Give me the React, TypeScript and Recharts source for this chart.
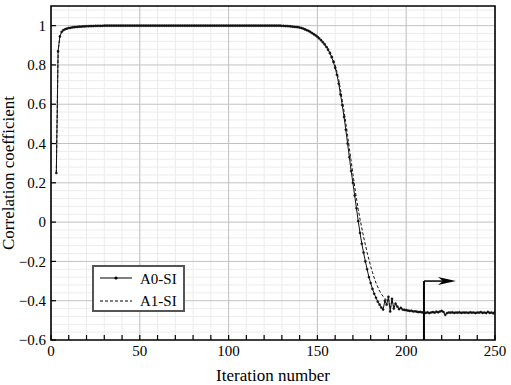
import React from 'react';
import {
  LineChart,
  Line,
  XAxis,
  YAxis,
  CartesianGrid,
  ReferenceLine,
  ReferenceArea,
  Legend,
  Label,
} from 'recharts';

// iterations start at 3 (first recorded point)
const firstIteration = 3;

// A0-SI correlation, one value per iteration (3..250)
const a0Values = [
  0.25, 0.87, 0.945, 0.968, 0.977, 0.982, 0.985,
  0.988, 0.989, 0.991, 0.992, 0.993, 0.994, 0.995, 0.995, 0.996, 0.996,
  0.997, 0.997, 0.998, 0.998, 0.998, 0.999, 0.999, 0.999, 0.999, 0.999,
  1, 1, 1, 1, 1, 1, 1, 1, 1, 1,
  1, 1, 1, 1, 1, 1, 1, 1, 1, 1,
  1, 1, 1, 1, 1, 1, 1, 1, 1, 1,
  1, 1, 1, 1, 1, 1, 1, 1, 1, 1,
  1, 1, 1, 1, 1, 1, 1, 1, 1, 1,
  1, 1, 1, 1, 1, 1, 1, 1, 1, 1,
  1, 1, 1, 1, 1, 1, 1, 1, 1, 1,
  1, 1, 1, 1, 1, 1, 1, 1, 1, 1,
  1, 1, 1, 1, 1, 1, 1, 1, 1, 1,
  1, 1, 1, 1, 1, 1, 1, 1, 1, 1,
  0.999, 0.999, 0.998, 0.998, 0.997, 0.996, 0.995, 0.994, 0.993, 0.992,
  0.99, 0.988, 0.985, 0.981, 0.977, 0.973, 0.968, 0.962, 0.956, 0.95,
  0.943, 0.935, 0.926, 0.916, 0.905, 0.892, 0.877, 0.86, 0.84, 0.815,
  0.785, 0.75, 0.705, 0.65, 0.595, 0.535, 0.47, 0.4, 0.33, 0.26,
  0.2, 0.135, 0.07, 0.005, -0.055, -0.11, -0.155, -0.2, -0.24, -0.28,
  -0.31, -0.34, -0.365, -0.385, -0.405, -0.42, -0.435, -0.445, -0.4, -0.42,
  -0.38, -0.455, -0.39, -0.44, -0.415, -0.43, -0.443, -0.436, -0.445, -0.447,
  -0.448, -0.45, -0.452, -0.451, -0.455, -0.454, -0.456, -0.458, -0.457, -0.46,
  -0.458, -0.462, -0.459, -0.463, -0.46, -0.458, -0.461, -0.456, -0.459, -0.455,
  -0.452, -0.458, -0.472, -0.463, -0.46, -0.461, -0.459, -0.462, -0.46, -0.461,
  -0.459, -0.462, -0.46, -0.461, -0.46, -0.462, -0.459, -0.461, -0.46, -0.463,
  -0.46, -0.461, -0.458, -0.462, -0.46, -0.463, -0.457, -0.462, -0.46, -0.464,
  -0.458,
];

// A1-SI correlation, one value per iteration (3..250)
const a1Values = [
  0.25, 0.87, 0.945, 0.968, 0.977, 0.982, 0.985,
  0.988, 0.989, 0.991, 0.992, 0.993, 0.994, 0.995, 0.995, 0.996, 0.996,
  0.997, 0.997, 0.998, 0.998, 0.998, 0.999, 0.999, 0.999, 0.999, 0.999,
  1, 1, 1, 1, 1, 1, 1, 1, 1, 1,
  1, 1, 1, 1, 1, 1, 1, 1, 1, 1,
  1, 1, 1, 1, 1, 1, 1, 1, 1, 1,
  1, 1, 1, 1, 1, 1, 1, 1, 1, 1,
  1, 1, 1, 1, 1, 1, 1, 1, 1, 1,
  1, 1, 1, 1, 1, 1, 1, 1, 1, 1,
  1, 1, 1, 1, 1, 1, 1, 1, 1, 1,
  1, 1, 1, 1, 1, 1, 1, 1, 1, 1,
  1, 1, 1, 1, 1, 1, 1, 1, 1, 1,
  1, 1, 1, 1, 1, 1, 1, 1, 1, 1,
  0.999, 0.999, 0.998, 0.998, 0.997, 0.996, 0.995, 0.994, 0.993, 0.992,
  0.991, 0.989, 0.986, 0.983, 0.979, 0.975, 0.97, 0.965, 0.959, 0.953,
  0.946, 0.939, 0.93, 0.921, 0.91, 0.898, 0.884, 0.868, 0.85, 0.828,
  0.8, 0.765, 0.725, 0.675, 0.62, 0.565, 0.505, 0.44, 0.375, 0.31,
  0.245, 0.18, 0.12, 0.065, 0.015, -0.03, -0.075, -0.115, -0.155, -0.19,
  -0.225, -0.255, -0.285, -0.31, -0.33, -0.35, -0.365, -0.378, -0.388, -0.398,
  -0.39, -0.44, -0.395, -0.435, -0.418, -0.432, -0.44, -0.438, -0.444, -0.446,
  -0.449, -0.451, -0.452, -0.452, -0.454, -0.455, -0.456, -0.457, -0.458, -0.459,
  -0.459, -0.461, -0.46, -0.462, -0.46, -0.459, -0.46, -0.457, -0.459, -0.456,
  -0.453, -0.457, -0.47, -0.462, -0.46, -0.46, -0.46, -0.461, -0.46, -0.461,
  -0.46, -0.461, -0.46, -0.461, -0.46, -0.461, -0.46, -0.461, -0.46, -0.462,
  -0.46, -0.461, -0.459, -0.461, -0.46, -0.462, -0.458, -0.461, -0.46, -0.463,
  -0.459,
];

const xTicks = [0, 10, 20, 30, 40, 50, 60, 70, 80, 90, 100, 110, 120, 130, 140, 150, 160, 170, 180, 190, 200, 210, 220, 230, 240, 250];
const xMajor = [50, 100, 150, 200];
const yTicks = [-0.6, -0.4, -0.2, 0, 0.2, 0.4, 0.6, 0.8, 1];
const yMinor = [
  -0.56, -0.52, -0.48, -0.44, -0.36, -0.32, -0.28, -0.24, -0.16, -0.12, -0.08, -0.04,
  0.04, 0.08, 0.12, 0.16, 0.24, 0.28, 0.32, 0.36, 0.44, 0.48, 0.52, 0.56,
  0.64, 0.68, 0.72, 0.76, 0.84, 0.88, 0.92, 0.96, 1.04, 1.08,
];
const yMajor = [-0.4, -0.2, 0, 0.2, 0.4, 0.6, 0.8, 1];

// marker: iteration where the arrow starts, its height and where it points to
const markerIteration = 210;
const markerLevel = -0.3;
const markerTarget = 228;

const data = a0Values.map((v, i) => ({
  iter: i + firstIteration,
  a0: v,
  a1: a1Values[i],
}));

const FONT = 'Liberation Serif, Times New Roman, Times, DejaVu Serif, serif';

const fmtY = (v: number) => {
  if (v === 0) return '0';
  if (v === 1) return '1';
  return v.toFixed(1).replace('-', '\u2212');
};

const txt = { fontFamily: FONT, fill: '#000' };

const XTick = (props: any) => {
  const { x, y, payload } = props;
  return (
    <g>
      <line x1={x} y1={y} x2={x} y2={y - 5} stroke="#000" strokeWidth={1.2} />
      {payload.value % 50 === 0 && (
        <text x={x} y={y + 16} textAnchor="middle" fontSize={15} style={txt}>
          {payload.value}
        </text>
      )}
    </g>
  );
};

const YTick = (props: any) => {
  const { x, y, payload } = props;
  return (
    <g>
      <line x1={x} y1={y} x2={x + 5} y2={y} stroke="#000" strokeWidth={1.2} />
      <text x={x - 5} y={y} dy="0.35em" textAnchor="end" fontSize={15} style={txt}>
        {fmtY(payload.value)}
      </text>
    </g>
  );
};

const Arrow = (props: any) => {
  const { x1, y1, x2, y2 } = props;
  return (
    <g>
      <line x1={x1} y1={y1} x2={x2 - 12} y2={y2} stroke="#000" strokeWidth={1.5} />
      <polygon
        points={`${x2},${y2} ${x2 - 18},${y2 - 4} ${x2 - 13},${y2} ${x2 - 18},${y2 + 4}`}
        fill="#000"
      />
    </g>
  );
};

const LegendBox = () => (
  <div
    style={{
      width: 89,
      height: 43,
      border: '2px solid #555',
      background: '#fff',
      position: 'relative',
    }}
  >
    <svg width={89} height={43} style={{ position: 'absolute', left: 0, top: 0 }}>
      <line x1={6} x2={38} y1={11} y2={11} stroke="#000" strokeWidth={1} />
      <circle cx={22} cy={11} r={1.6} fill="#000" />
      <line x1={6} x2={38} y1={34} y2={34} stroke="#000" strokeWidth={1} strokeDasharray="3 2" />
      <text x={46} y={17} fontSize={15} style={txt}>A0-SI</text>
      <text x={46} y={39} fontSize={15} style={txt}>A1-SI</text>
    </svg>
  </div>
);

export default function App() {
  return (
    <div style={{ position: 'absolute', left: 0, top: 0, background: '#fff', fontFamily: FONT }}>
      <LineChart
        width={511}
        height={385}
        data={data}
        margin={{ top: 6, right: 16, left: 0, bottom: 0 }}
      >
        <CartesianGrid verticalValues={xTicks} horizontalValues={yMinor} stroke="#ececec" strokeWidth={1} fill="none" />
        <CartesianGrid verticalValues={xMajor} horizontalValues={yMajor} stroke="#c2c2c2" strokeWidth={1} fill="none" />
        <XAxis
          dataKey="iter"
          type="number"
          domain={[0, 250]}
          ticks={xTicks}
          interval={0}
          tick={<XTick />}
          tickSize={0}
          tickMargin={0}
          tickLine={false}
          axisLine={false}
          height={45}
          allowDataOverflow
        >
          <Label
            content={(p: any) => {
              const vb = p.viewBox;
              return (
                <text x={vb.x + vb.width / 2} y={381} textAnchor="middle" fontSize={17} style={txt}>
                  Iteration number
                </text>
              );
            }}
          />
        </XAxis>
        <YAxis
          type="number"
          domain={[-0.6, 1.1]}
          ticks={yTicks}
          interval={0}
          tick={<YTick />}
          tickSize={0}
          tickMargin={0}
          tickLine={false}
          axisLine={false}
          width={51}
          allowDataOverflow
        >
          <Label
            content={(p: any) => {
              const vb = p.viewBox;
              const cy = vb.y + vb.height / 2;
              return (
                <text
                  x={14}
                  y={cy}
                  transform={`rotate(-90 14 ${cy})`}
                  textAnchor="middle"
                  fontSize={17}
                  style={txt}
                >
                  Correlation coefficient
                </text>
              );
            }}
          />
        </YAxis>
        <Line
          type="linear"
          dataKey="a1"
          name="A1-SI"
          stroke="#111"
          strokeWidth={1}
          strokeDasharray="3 2"
          dot={false}
          isAnimationActive={false}
        />
        <Line
          type="linear"
          dataKey="a0"
          name="A0-SI"
          stroke="#111"
          strokeWidth={1}
          dot={{ r: 1.1, fill: '#111', stroke: '#111', strokeWidth: 0.4 }}
          isAnimationActive={false}
        />
        <ReferenceLine
          segment={[{ x: markerIteration, y: -0.6 }, { x: markerIteration, y: markerLevel }]}
          stroke="#000"
          strokeWidth={2}
        />
        <ReferenceLine
          segment={[{ x: markerIteration, y: markerLevel }, { x: markerTarget, y: markerLevel }]}
          shape={<Arrow />}
        />
        <ReferenceArea x1={0} x2={250} y1={-0.6} y2={1.1} fill="none" stroke="#000" strokeWidth={1.6} />
        <Legend
          layout="vertical"
          align="center"
          verticalAlign="middle"
          content={() => <LegendBox />}
          wrapperStyle={{ left: 92, top: 265, width: 93, height: 47 }}
        />
      </LineChart>
    </div>
  );
}
